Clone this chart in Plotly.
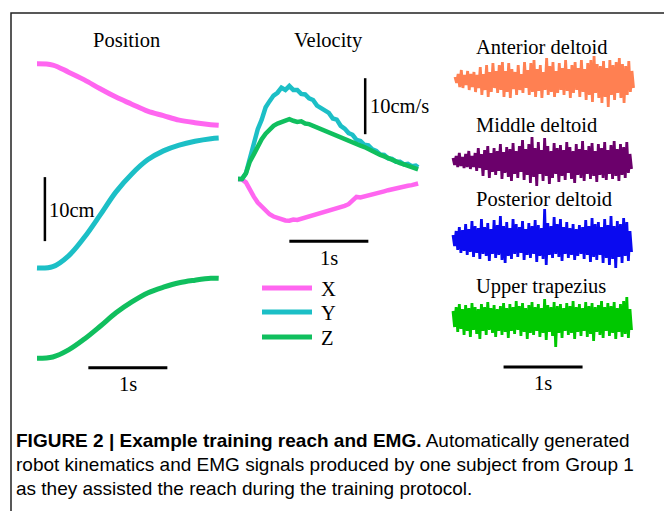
import plotly.graph_objects as go

W, H = 664, 511

# ---------------- DATA ----------------
# Position (cm, traces vertically offset for display as in the figure)
pos_t = [0, 0.2, 0.4, 0.6, 0.8, 1.0, 1.2, 1.4, 1.6, 1.8, 2.0, 2.2, 2.3]
pos_x = [49.4, 49.2, 48.1, 46.9, 45.5, 44.2, 43.1, 42.0, 41.3, 40.6, 40.2, 39.9, 39.8]
pos_y = [17.5, 17.7, 19.4, 22.3, 25.8, 29.4, 32.2, 34.4, 35.8, 36.7, 37.3, 37.7, 37.8]
pos_z = [3.4, 3.6, 4.7, 6.4, 8.4, 10.5, 12.2, 13.6, 14.5, 15.2, 15.6, 15.9, 15.9]

# Velocity (cm/s)
vel_t = [0.00, 0.05, 0.10, 0.15, 0.20, 0.25, 0.30, 0.35, 0.40, 0.45,
         0.50, 0.55, 0.60, 0.65, 0.70, 0.75, 0.80, 0.85, 0.90, 0.95,
         1.00, 1.05, 1.10, 1.15, 1.20, 1.25, 1.30, 1.35, 1.40, 1.45,
         1.50, 1.55, 1.60, 1.65, 1.70, 1.75, 1.80, 1.85, 1.90, 1.95,
         2.00, 2.05, 2.10, 2.15, 2.20, 2.25, 2.28]
vel_x = [0, -0.06, -0.6, -2.0, -3.15, -4.2, -4.9, -5.65, -6.3, -6.7,
         -7.0, -7.25, -7.4, -7.45, -7.25, -7.3, -7.1, -6.9, -6.8, -6.5,
         -6.3, -6.0, -5.9, -5.6, -5.5, -5.25, -5.1, -4.8, -4.5, -3.9,
         -3.2, -3.3, -3.15, -3.0, -2.75, -2.5, -2.35, -2.2, -2.0, -1.8,
         -1.65, -1.5, -1.3, -1.2, -1.1, -0.9, -0.8]
vel_y = [0, 0, 1.0, 3.9, 6.2, 8.9, 10.6, 12.8, 13.9, 14.9,
         15.4, 16.3, 15.9, 16.6, 15.9, 15.9, 15.2, 15.1, 14.4, 14.1,
         13.1, 12.7, 12.2, 11.8, 10.8, 10.6, 9.5, 9.0, 8.2, 7.9,
         7.0, 6.8, 6.1, 6.0, 5.3, 5.0, 4.4, 4.3, 3.7, 3.6,
         3.1, 3.1, 2.6, 2.7, 2.3, 2.4, 2.1]
vel_z = [0, 0, 1.0, 3.1, 4.4, 5.95, 7.1, 8.1, 8.9, 9.5,
         9.9, 10.2, 10.4, 10.7, 10.4, 10.2, 10.3, 9.9, 9.8, 9.5,
         9.05, 8.8, 8.45, 8.2, 7.9, 7.6, 7.3, 7.0, 6.8, 6.5,
         6.25, 5.95, 5.7, 5.3, 5.0, 4.6, 4.3, 4.05, 3.7, 3.45,
         3.15, 2.85, 2.6, 2.4, 2.1, 1.9, 1.7]

# Raw EMG signals (arbitrary units), sampled every 0.02 s
emg_t = [0.00, 0.02, 0.04, 0.06, 0.08, 0.10, 0.12, 0.14, 0.16, 0.18,
         0.20, 0.22, 0.24, 0.26, 0.28, 0.30, 0.32, 0.34, 0.36, 0.38,
         0.40, 0.42, 0.44, 0.46, 0.48, 0.50, 0.52, 0.54, 0.56, 0.58,
         0.60, 0.62, 0.64, 0.66, 0.68, 0.70, 0.72, 0.74, 0.76, 0.78,
         0.80, 0.82, 0.84, 0.86, 0.88, 0.90, 0.92, 0.94, 0.96, 0.98,
         1.00, 1.02, 1.04, 1.06, 1.08, 1.10, 1.12, 1.14, 1.16, 1.18,
         1.20, 1.22, 1.24, 1.26, 1.28, 1.30, 1.32, 1.34, 1.36, 1.38,
         1.40, 1.42, 1.44, 1.46, 1.48, 1.50, 1.52, 1.54, 1.56, 1.58,
         1.60, 1.62, 1.64, 1.66, 1.68, 1.70, 1.72, 1.74, 1.76, 1.78,
         1.80, 1.82, 1.84, 1.86, 1.88, 1.90, 1.92, 1.94, 1.96, 1.98,
         2.00, 2.02, 2.04, 2.06, 2.08, 2.10, 2.12, 2.14, 2.16, 2.18,
         2.20, 2.22, 2.24, 2.26]
emg_ant = [3, -3, 6, -7, 10, -8, 5, -5, 9, -10, 6, -7, 8, -12, 5, -8, 13, -15, 6, -10,
           15, -17, 8, -12, 17, -8, 9, -13, 15, -10, 18, -17, 9, -12, 17, -18, 11, -9, 8, -15,
           15, -10, 6, -13, 18, -8, 10, -15, 17, -12, 20, -17, 11, -11, 15, -18, 8, -10, 22, -15,
           14, -12, 18, -17, 9, -13, 17, -10, 12, -15, 20, -11, 11, -18, 15, -13, 18, -10, 12, -17,
           20, -12, 11, -20, 17, -15, 20, -22, 24, -13, 16, -18, 14, -23, 19, -17, 12, -27, 20, -15,
           15, -20, 18, -13, 22, -18, 16, -23, 14, -15, 19, -12, 9, -8]
emg_mid = [4, -3, 6, -5, 9, -4, 5, -6, 8, -5, 11, -7, 6, -5, 9, -9, 14, -6, 8, -14,
           12, -8, 16, -16, 9, -10, 14, -13, 11, -9, 18, -17, 10, -11, 15, -15, 13, -19, 19, -12,
           11, -16, 16, -10, 22, -18, 13, -13, 18, -21, 25, -15, 14, -24, 20, -12, 12, -19, 24, -14,
           16, -22, 11, -16, 19, -12, 14, -20, 17, -14, 12, -18, 20, -11, 15, -17, 11, -21, 18, -13,
           13, -16, 21, -19, 12, -12, 16, -17, 19, -14, 11, -20, 18, -13, 14, -16, 20, -18, 12, -12,
           17, -17, 21, -14, 13, -19, 18, -13, 15, -16, 20, -11, 8, -7]
emg_post = [6, -5, 10, -9, 14, -12, 11, -10, 17, -14, 12, -11, 20, -16, 15, -12, 13, -18, 22, -13,
            14, -15, 18, -20, 12, -13, 21, -17, 16, -14, 25, -19, 15, -22, 19, -15, 13, -18, 22, -13,
            17, -16, 14, -12, 20, -19, 12, -14, 18, -17, 15, -13, 21, -21, 16, -15, 13, -18, 32, -24,
            18, -14, 15, -17, 24, -13, 17, -16, 22, -20, 14, -13, 19, -17, 13, -14, 17, -19, 12, -15,
            16, -13, 14, -18, 21, -14, 15, -21, 23, -16, 17, -19, 19, -14, 14, -22, 22, -17, 16, -24,
            25, -18, 15, -27, 20, -16, 17, -22, 23, -15, 19, -20, 10, -11]
emg_trap = [8, -8, 12, -13, 15, -10, 10, -16, 14, -12, 11, -18, 16, -11, 12, -15, 10, -20, 15, -12,
            12, -16, 17, -11, 11, -14, 14, -18, 10, -12, 13, -16, 16, -13, 11, -19, 15, -12, 12, -15,
            18, -11, 13, -17, 16, -13, 11, -20, 14, -14, 17, -16, 12, -12, 15, -18, 11, -14, 20, -21,
            14, -13, 12, -17, 17, -28, 13, -14, 15, -19, 11, -12, 16, -16, 13, -14, 18, -20, 12, -13,
            15, -17, 11, -12, 17, -18, 13, -15, 16, -22, 12, -13, 14, -16, 18, -19, 12, -12, 16, -17,
            13, -14, 17, -20, 11, -13, 15, -18, 18, -15, 22, -19, 10, -11]

axis_labels = ["X", "Y", "Z"]
muscle_names = ["Anterior deltoid", "Middle deltoid", "Posterior deltoid", "Upper trapezius"]

# ---------------- STYLE ----------------
C_X, C_Y, C_Z = "#FF66F0", "#1CBFC6", "#10BF5E"
EMG_COLORS = ["#FF8052", "#6B006B", "#0A0AF0", "#00C800"]
SERIF = "Liberation Serif, Times New Roman, serif"
SANS = "Liberation Sans Narrow, Arial Narrow, Liberation Sans, Arial, sans-serif"
FS = 20.5


def px(x):
    return x / W


def py(y):
    return 1 - y / H


def panel(left, right, top, bottom, x0, y0, sx, sy):
    xa = dict(domain=[px(left), px(right)], range=[(left - x0) / sx, (right - x0) / sx],
              visible=False, fixedrange=True)
    ya = dict(domain=[py(bottom), py(top)], range=[(y0 - bottom) / sy, (y0 - top) / sy],
              visible=False, fixedrange=True)
    return xa, ya


fig = go.Figure()
layout_axes = {}

# panel definitions: (left, right, top, bottom, x0, y0, sx, sy)
panels = [
    (25, 235, 44, 396, 37, 380, 79, 6.4),      # position
    (225, 440, 60, 275, 238, 179, 79, 5.6),    # velocity
    (445, 645, 45, 115, 455, 80, 79, 1),       # anterior
    (445, 645, 127, 197, 453, 162, 79, 1),     # middle
    (445, 645, 200, 280, 453, 241, 79, 1),     # posterior
    (445, 645, 284, 400, 453, 319, 79, 1),     # trapezius
]
for i, p in enumerate(panels, start=1):
    xa, ya = panel(*p)
    sfx = "" if i == 1 else str(i)
    xa["anchor"] = "y" + sfx
    ya["anchor"] = "x" + sfx
    layout_axes["xaxis" + sfx] = xa
    layout_axes["yaxis" + sfx] = ya

# Position traces
for vals, col in zip([pos_x, pos_y, pos_z], [C_X, C_Y, C_Z]):
    fig.add_trace(go.Scatter(x=pos_t, y=vals, mode="lines", line=dict(color=col, width=5, shape="spline"),
                             xaxis="x", yaxis="y", showlegend=False, hoverinfo="skip"))
# 10 cm bar and 1 s bar
fig.add_trace(go.Scatter(x=[0.1, 0.1], y=[21.7, 31.7], mode="lines", line=dict(color="black", width=2.5),
                         xaxis="x", yaxis="y", showlegend=False, hoverinfo="skip"))
fig.add_trace(go.Scatter(x=[0.65, 1.65], y=[1.9, 1.9], mode="lines", line=dict(color="black", width=3),
                         xaxis="x", yaxis="y", showlegend=False, hoverinfo="skip"))

# Velocity traces
for vals, col in zip([vel_x, vel_y, vel_z], [C_X, C_Y, C_Z]):
    fig.add_trace(go.Scatter(x=vel_t, y=vals, mode="lines", line=dict(color=col, width=4.5),
                             xaxis="x2", yaxis="y2", showlegend=False, hoverinfo="skip"))
fig.add_trace(go.Scatter(x=[1.61, 1.61], y=[8, 18], mode="lines", line=dict(color="black", width=2.5),
                         xaxis="x2", yaxis="y2", showlegend=False, hoverinfo="skip"))
fig.add_trace(go.Scatter(x=[0.65, 1.65], y=[-11.1, -11.1], mode="lines", line=dict(color="black", width=3),
                         xaxis="x2", yaxis="y2", showlegend=False, hoverinfo="skip"))

# EMG traces
for k, (sig, col) in enumerate(zip([emg_ant, emg_mid, emg_post, emg_trap], EMG_COLORS)):
    ax = str(k + 3)
    fig.add_trace(go.Scatter(x=emg_t, y=sig, mode="lines", fill="tozeroy", fillcolor=col,
                             line=dict(color=col, width=2.8, simplify=False),
                             xaxis="x" + ax, yaxis="y" + ax, showlegend=False, hoverinfo="skip"))
fig.add_trace(go.Scatter(x=[0.64, 1.64], y=[-48, -48], mode="lines", line=dict(color="black", width=3),
                         xaxis="x6", yaxis="y6", showlegend=False, hoverinfo="skip"))

annotations = []


def txt(text, x, y, xref, yref, xanchor="center", size=FS, family=SERIF, yanchor="middle"):
    annotations.append(dict(text=text, x=x, y=y, xref=xref, yref=yref, xanchor=xanchor, yanchor=yanchor,
                            showarrow=False, font=dict(family=family, size=size, color="black")))


# Panel titles
txt("Position", px(126), py(40), "paper", "paper")
txt("Velocity", px(328), py(40), "paper", "paper")
for name, yc in zip(muscle_names, [47, 125, 199, 286]):
    txt(name, px(474), py(yc), "paper", "paper", xanchor="left")

# Scale labels (data coordinates)
txt("10cm", 0.13, 26.5, "x", "y", xanchor="left")
txt("1s", 1.15, -0.7, "x", "y")
txt("10cm/s", 1.65, 13.0, "x2", "y2", xanchor="left")
txt("1s", 1.15, -14.1, "x2", "y2")
txt("1s", 1.14, -64, "x6", "y6")

# Manual legend
shapes = []
for lab, col, yc in zip(axis_labels, [C_X, C_Y, C_Z], [288, 312, 337]):
    shapes.append(dict(type="line", xref="paper", yref="paper", x0=px(262), x1=px(312), y0=py(yc), y1=py(yc),
                       line=dict(color=col, width=5)))
    txt(lab, px(319), py(yc + 1), "paper", "paper", xanchor="left")

# Border
shapes.append(dict(type="rect", xref="paper", yref="paper", x0=px(11), x1=1.05, y0=-0.05, y1=py(13),
                   line=dict(color="#222222", width=1.5), fillcolor="rgba(0,0,0,0)", layer="below"))

# Caption
cap = [
    "<b>FIGURE 2 | Example training reach and EMG.</b> Automatically generated",
    "robot kinematics and EMG signals produced by one subject from Group 1",
    "as they assisted the reach during the training protocol.",
]
for line, yb in zip(cap, [448, 472, 496]):
    txt(line, px(14), py(yb + 5), "paper", "paper", xanchor="left", size=19, family=SANS, yanchor="bottom")

fig.update_layout(
    width=W, height=H, margin=dict(l=0, r=0, t=0, b=0),
    paper_bgcolor="white", plot_bgcolor="rgba(0,0,0,0)",
    showlegend=False, annotations=annotations, shapes=shapes,
    **layout_axes,
)
fig.write_html("out.html", config={"displayModeBar": False},
               post_script="document.body.style.margin='0';")
